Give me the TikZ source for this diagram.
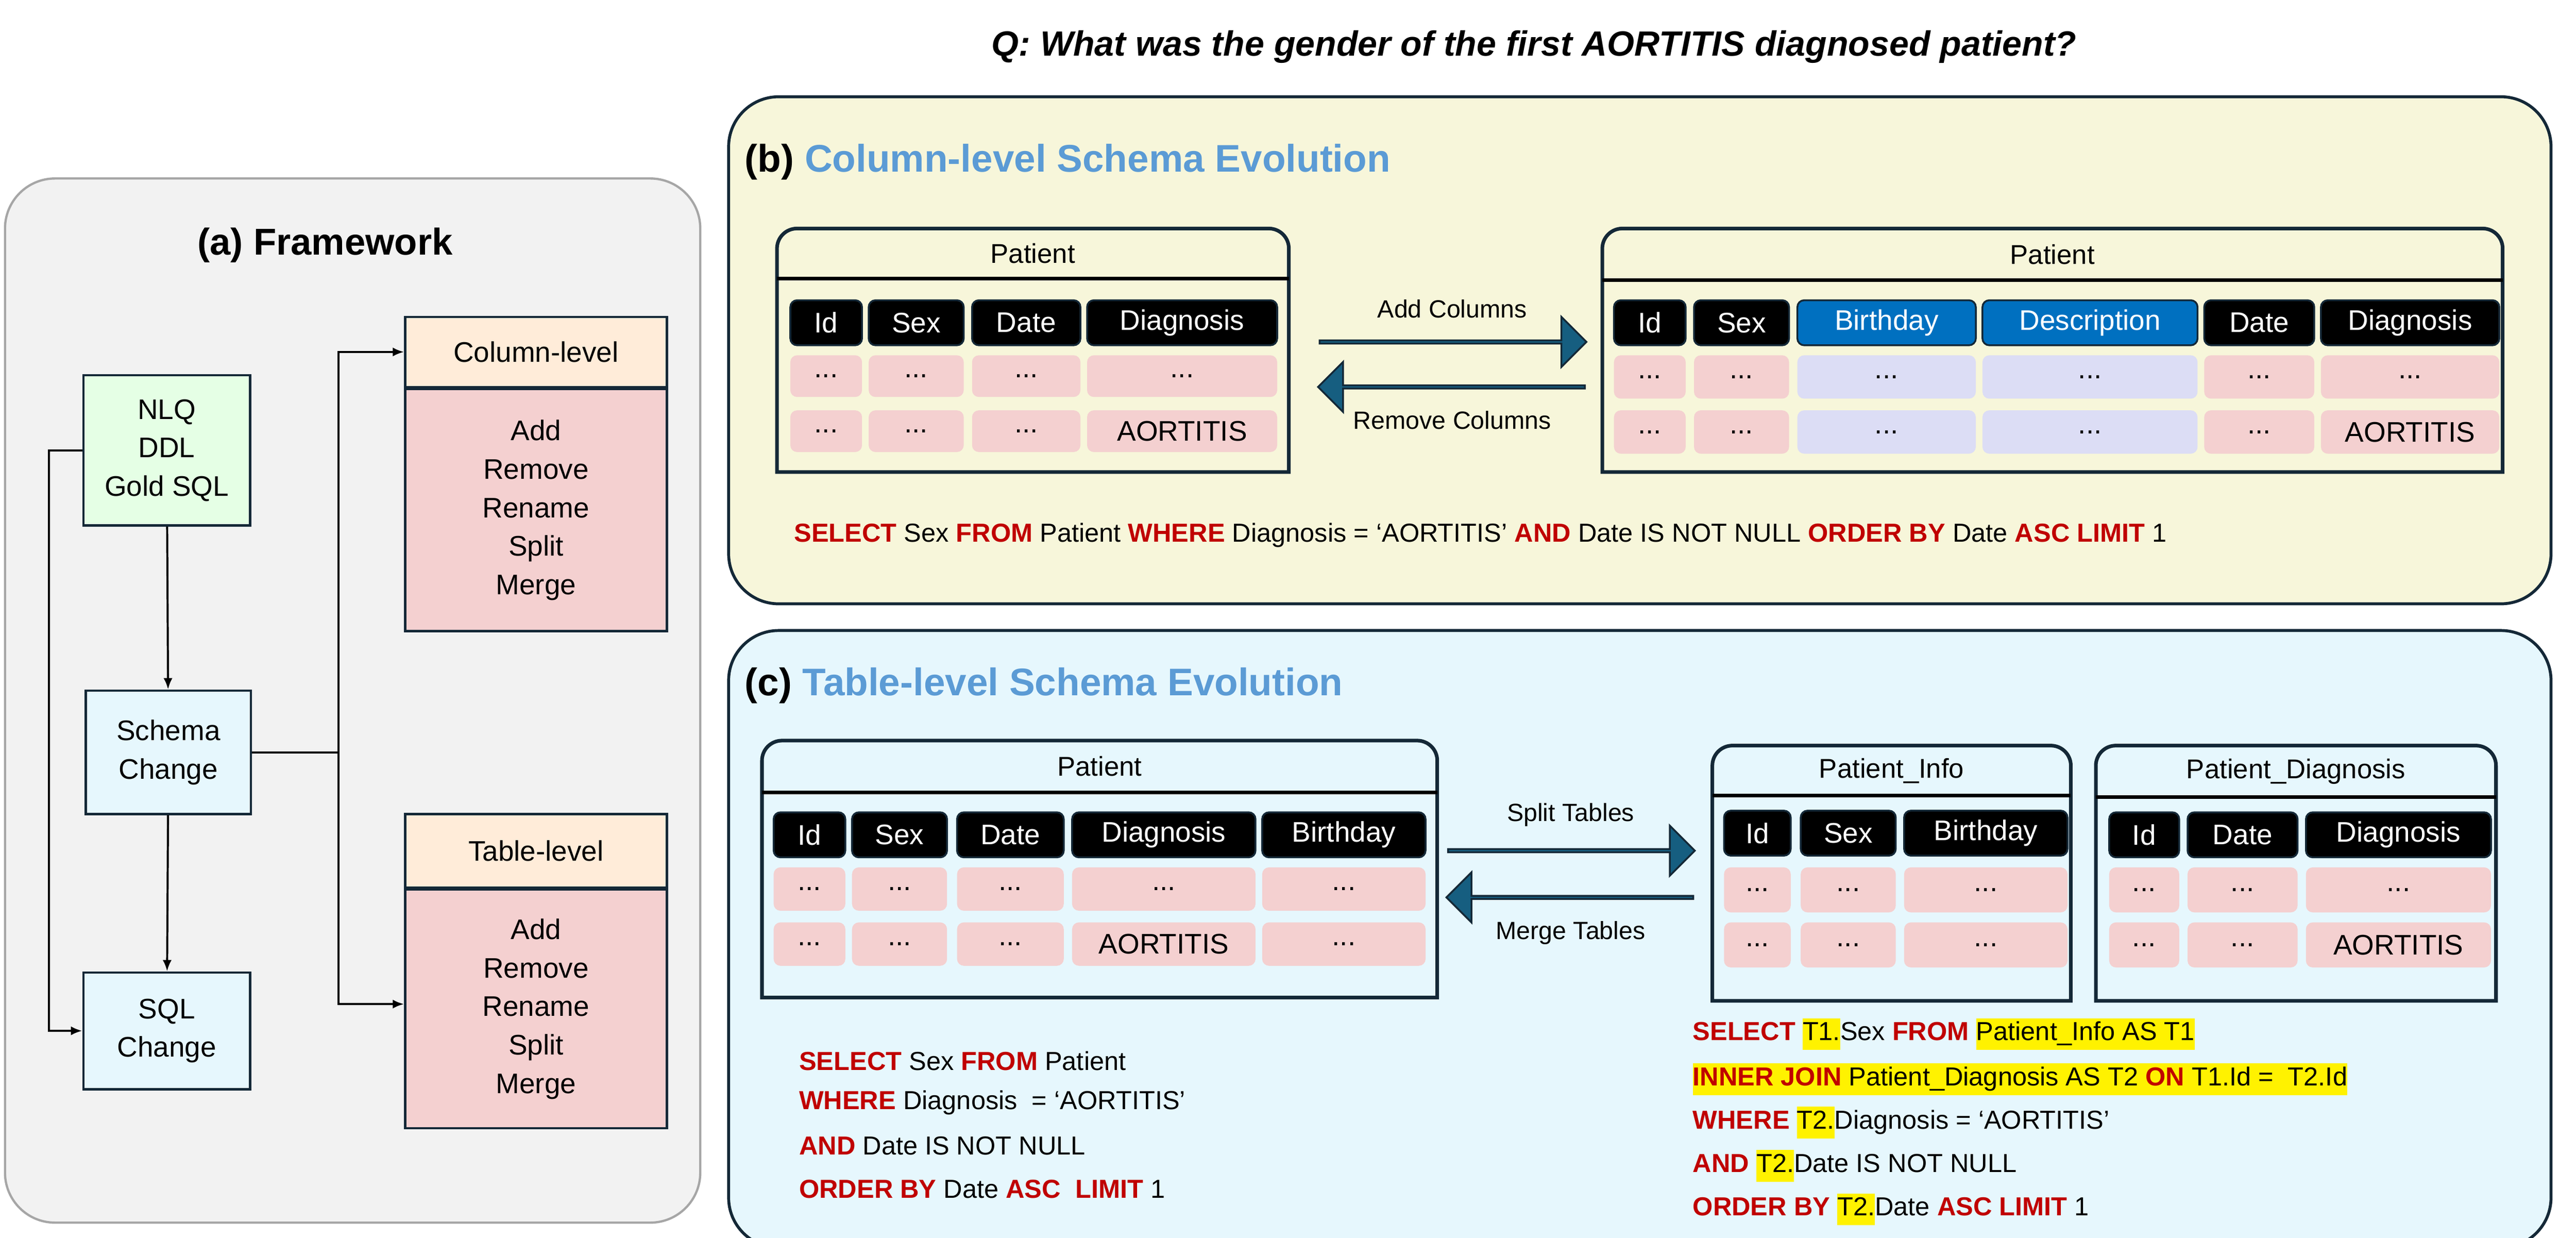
\documentclass[tikz,border=0pt]{standalone}
\usepackage{fontspec}
\setmainfont{Liberation Sans}
\usepackage{tikz}
\usetikzlibrary{arrows.meta, positioning, calc, shapes.arrows}

\definecolor{kwred}{RGB}{192,0,0}
\definecolor{ttlblue}{RGB}{91,155,213}
\definecolor{frame}{RGB}{20,40,55}
\definecolor{cellpink}{RGB}{244,208,208}
\definecolor{celllav}{RGB}{220,221,245}
\definecolor{hdrblue}{RGB}{0,112,192}
\definecolor{arrowfill}{RGB}{22,94,128}
\newcommand{\kw}[1]{\textcolor{kwred}{\textbf{#1}}}
\newcommand{\hl}[1]{{\setlength{\fboxsep}{0pt}\colorbox{yellow}{\strut #1}}}
\newcommand{\dd}{...}
\newcommand{\pu}{0.02589cm}
% cell: name, x1, x2, y1, y2, style, text
\newcommand{\tcell}[7]{\node[#6, minimum width={(#3-#2)*\pu}, minimum height={(#5-#4)*\pu}] (#1) at ({(#2+#3)/2},{(#4+#5)/2}) {#7};}
% table frame: name, x1, x2, y1, yline, y2, title
\newcommand{\tframe}[7]{%
  \draw[line width=1.6pt, frame] (#2,#6) [rounded corners=12*\pu] -- (#2,#4) -- (#3,#4) [sharp corners] -- (#3,#6) -- cycle;
  \draw[line width=1.6pt, black] (#2,#5) -- (#3,#5);
  \node[font=\fontsize{12}{14}\selectfont] (#1) at ({(#2+#3)/2},{(#4+#5)/2}) {#7};}

\tikzset{
  hcell/.style={fill=black, text=white, rounded corners=3pt, draw=frame, line width=0.8pt, inner sep=0pt, font=\fontsize{12.5}{14}\selectfont},
  bcell/.style={hcell, fill=hdrblue},
  pcell/.style={fill=cellpink, rounded corners=3pt, inner sep=0pt, font=\fontsize{12.5}{14}\selectfont},
  lcell/.style={pcell, fill=celllav},
  fwbox/.style={draw=frame, line width=1pt, align=center, inner sep=0pt, font=\fontsize{12.5}{17}\selectfont},
  fwarrow/.style={-{Latex[length=5pt,width=4pt]}, line width=0.9pt},
  fatarrow/.style={single arrow, fill=arrowfill, draw=frame, line width=0.8pt, minimum width=30*\pu, single arrow head extend=8*\pu, minimum height=160*\pu, inner sep=0pt},
  lbl/.style={font=\fontsize{11}{13}\selectfont},
  sql/.style={font=\fontsize{11.5}{14}\selectfont, anchor=west, inner sep=0pt},
  paneltitle/.style={font=\bfseries\fontsize{17}{20}\selectfont, anchor=west}
}

\begin{document}
\begin{tikzpicture}[x=0.02589cm, y=-0.02589cm]
    \useasboundingbox (0,0) rectangle (1545,742);

    % Question
    \node[font=\bfseries\itshape\fontsize{15.5}{18}\selectfont] (q) at (920,28) {Q: What was the gender of the first AORTITIS diagnosed patient?};

    % (a) Framework panel
    \draw[fill=gray!10, draw=gray!70, line width=1pt, rounded corners=30*\pu] (3,107) rectangle (420,733);
    \node[font=\bfseries\fontsize{16.5}{20}\selectfont] (fwtitle) at (195,147) {(a) Framework};
    \node[fwbox, fill=green!10!white, minimum width=100*\pu, minimum height=90*\pu] (nlq) at (100,270) {NLQ\\DDL\\Gold SQL};
    \node[fwbox, fill=cyan!10!white, minimum width=99*\pu, minimum height=74*\pu] (schema) at (101,451) {Schema\\Change};
    \node[fwbox, fill=cyan!10!white, minimum width=100*\pu, minimum height=70*\pu] (sqlc) at (100,618) {SQL\\Change};
    \node[fwbox, fill=orange!15!white, minimum width=157*\pu, minimum height=42*\pu] (colh) at (321.5,211) {Column-level};
    \node[fwbox, fill=cellpink, minimum width=157*\pu, minimum height=145*\pu, below=0pt of colh] (colb) {Add\\Remove\\Rename\\Split\\Merge};
    \node[fwbox, fill=orange!15!white, minimum width=157*\pu, minimum height=44*\pu] (tabh) at (321.5,510) {Table-level};
    \node[fwbox, fill=cellpink, minimum width=157*\pu, minimum height=143*\pu, below=0pt of tabh] (tabb) {Add\\Remove\\Rename\\Split\\Merge};
    \coordinate (split) at (203,451);
    \draw[fwarrow] (nlq) -- (schema);
    \draw[fwarrow] (schema) -- (sqlc);
    \draw[fwarrow] (nlq.west) -- ++(-20,0) |- (sqlc.west);
    \draw[line width=0.9pt] (schema.east) -- (split);
    \draw[fwarrow] (split) |- (colh.west);
    \draw[fwarrow] (split) |- ($(tabb.north west)!0.48!(tabb.south west)$);

    % (b) Column-level panel
    \draw[fill=yellow!5!white!93!olive, draw=frame, line width=1.3pt, rounded corners=30*\pu] (437,58) rectangle (1530,362);
    \node[paneltitle] (btitle) at (442,97) {(b) \textcolor{ttlblue}{Column-level Schema Evolution}};

    \tframe{bl}{466}{773}{137}{167}{283}{Patient}
    \foreach \n/\xa/\xb/\hs/\rs/\htx/\rtx in {1/474/517/hcell/pcell/Id/\dd, 2/521/578/hcell/pcell/Sex/\dd, 3/583/648/hcell/pcell/Date/\dd, 4/652/766/hcell/pcell/Diagnosis/AORTITIS} {
        \tcell{blh\n}{\xa}{\xb}{180}{207}{\hs}{\htx}
        \tcell{blr\n}{\xa}{\xb}{213}{238}{\rs}{\dd}
        \tcell{bls\n}{\xa}{\xb}{246}{271}{\rs}{\rtx}
    }
    \tframe{br}{961}{1501}{137}{168}{283}{Patient}
    \foreach \n/\xa/\xb/\hs/\rs/\htx/\rtx in {1/968/1011/hcell/pcell/Id/\dd, 2/1016/1073/hcell/pcell/Sex/\dd, 3/1078/1185/bcell/lcell/Birthday/\dd, 4/1189/1318/bcell/lcell/Description/\dd, 5/1322/1388/hcell/pcell/Date/\dd, 6/1392/1499/hcell/pcell/Diagnosis/AORTITIS} {
        \tcell{brh\n}{\xa}{\xb}{180}{207}{\hs}{\htx}
        \tcell{brr\n}{\xa}{\xb}{213}{239}{\rs}{\dd}
        \tcell{brs\n}{\xa}{\xb}{246}{272}{\rs}{\rtx}
    }
    \node[fatarrow] (addarr) at (871,205) {};
    \node[fatarrow, shape border rotate=180] (remarr) at (871,232) {};
    \node[lbl, above=6pt of addarr] (addlbl) {Add Columns};
    \node[lbl, below=6pt of remarr] (remlbl) {Remove Columns};
    \node[sql] (bsql) at (476,321) {\kw{SELECT} Sex \kw{FROM} Patient \kw{WHERE} Diagnosis = ‘AORTITIS’ \kw{AND} Date IS NOT NULL \kw{ORDER BY} Date \kw{ASC LIMIT} 1};

    % (c) Table-level panel
    \draw[fill=cyan!10!white, draw=frame, line width=1.3pt, rounded corners=30*\pu] (437,378) rectangle (1530,748);
    \node[paneltitle] (ctitle) at (442,411) {(c) \textcolor{ttlblue}{Table-level Schema Evolution}};

    \tframe{cl}{457}{862}{444}{475}{598}{Patient}
    \foreach \n/\xa/\xb/\htx/\rtx in {1/464/507/Id/\dd, 2/511/568/Sex/\dd, 3/574/638/Date/\dd, 4/643/753/Diagnosis/AORTITIS, 5/757/855/Birthday/\dd} {
        \tcell{clh\n}{\xa}{\xb}{487}{514}{hcell}{\htx}
        \tcell{clr\n}{\xa}{\xb}{520}{546}{pcell}{\dd}
        \tcell{cls\n}{\xa}{\xb}{553}{579}{pcell}{\rtx}
    }
    \tframe{ci}{1027}{1242}{447}{477}{600}{Patient\_Info}
    \foreach \n/\xa/\xb/\htx in {1/1034/1074/Id, 2/1080/1137/Sex, 3/1142/1240/Birthday} {
        \tcell{cih\n}{\xa}{\xb}{486}{513}{hcell}{\htx}
        \tcell{cir\n}{\xa}{\xb}{520}{547}{pcell}{\dd}
        \tcell{cis\n}{\xa}{\xb}{553}{580}{pcell}{\dd}
    }
    \tframe{cd}{1257}{1497}{447}{478}{600}{Patient\_Diagnosis}
    \foreach \n/\xa/\xb/\htx/\rtx in {1/1265/1307/Id/\dd, 2/1312/1378/Date/\dd, 3/1383/1494/Diagnosis/AORTITIS} {
        \tcell{cdh\n}{\xa}{\xb}{487}{514}{hcell}{\htx}
        \tcell{cdr\n}{\xa}{\xb}{520}{547}{pcell}{\dd}
        \tcell{cds\n}{\xa}{\xb}{553}{580}{pcell}{\rtx}
    }
    \node[fatarrow, minimum height=148*\pu] (splitarr) at (942,510) {};
    \node[fatarrow, minimum height=148*\pu, shape border rotate=180] (mergearr) at (942,538) {};
    \node[lbl, above=6pt of splitarr] (splitlbl) {Split Tables};
    \node[lbl, below=6pt of mergearr] (mergelbl) {Merge Tables};

    \node[sql] (csql1) at (479,636) {\kw{SELECT} Sex \kw{FROM} Patient};
    \node[sql] (csql2) at (479,661) {\kw{WHERE} Diagnosis~ = ‘AORTITIS’};
    \node[sql] (csql3) at (479,687) {\kw{AND} Date IS NOT NULL};
    \node[sql] (csql4) at (479,713) {\kw{ORDER BY} Date \kw{ASC}~ \kw{LIMIT} 1};

    \node[sql] (dsql1) at (1015,620) {\kw{SELECT} \hl{T1.}Sex \kw{FROM} \hl{Patient\_Info AS T1}};
    \node[sql] (dsql2) at (1015,647) {\hl{\kw{INNER JOIN} Patient\_Diagnosis AS T2 \kw{ON} T1.Id =~ T2.Id}};
    \node[sql] (dsql3) at (1015,673) {\kw{WHERE} \hl{T2.}Diagnosis = ‘AORTITIS’};
    \node[sql] (dsql4) at (1015,699) {\kw{AND} \hl{T2.}Date IS NOT NULL};
    \node[sql] (dsql5) at (1015,725) {\kw{ORDER BY} \hl{T2.}Date \kw{ASC LIMIT} 1};
\end{tikzpicture}
\end{document}
